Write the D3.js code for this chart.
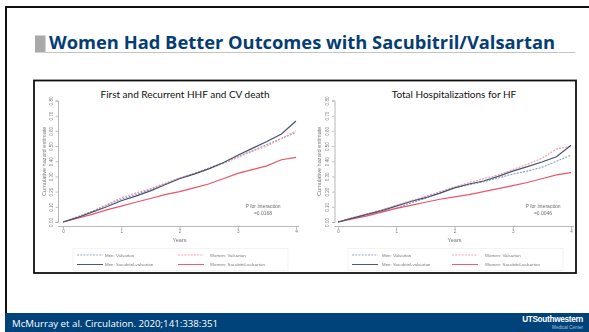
<!DOCTYPE html>
<html>
<head>
<meta charset="utf-8">
<script src="https://cdn.jsdelivr.net/npm/d3@7"></script>
<style>
  body { margin: 0; background: #fff; }
  svg { display: block; }
</style>
</head>
<body>
<svg id="slide" width="589" height="332"></svg>
<script>
// ---- slide text ----
const slideTitle = "Women Had Better Outcomes with Sacubitril/Valsartan";
const citation = "McMurray et al. Circulation. 2020;141:338:351";

// ---- shared axes ----
const years = [0, 0.25, 0.5, 0.75, 1, 1.25, 1.5, 1.75, 2, 2.25, 2.5, 2.75, 3, 3.25, 3.5, 3.75, 4];
const yearTicks = [0, 1, 2, 3, 4];
const hazardTicks = [0, 0.1, 0.2, 0.3, 0.4, 0.5, 0.6, 0.7, 0.8];
const seriesNames = ["Men: Valsartan", "Men: Sacubitril-valsartan", "Women: Valsartan", "Women: Sacubitril-valsartan"];

// ---- panel A: first and recurrent HHF and CV death (cumulative hazard) ----
const hhfCvMenVal   = [0, 0.035, 0.07, 0.11, 0.15, 0.18, 0.215, 0.25, 0.29, 0.32, 0.355, 0.39, 0.43, 0.47, 0.51, 0.55, 0.59];
const hhfCvMenSac   = [0, 0.03, 0.065, 0.10, 0.14, 0.17, 0.205, 0.245, 0.285, 0.315, 0.35, 0.39, 0.44, 0.485, 0.53, 0.58, 0.665];
const hhfCvWomenVal = [0, 0.03, 0.07, 0.115, 0.16, 0.19, 0.22, 0.255, 0.29, 0.32, 0.35, 0.385, 0.425, 0.465, 0.50, 0.55, 0.60];
const hhfCvWomenSac = [0, 0.025, 0.05, 0.08, 0.105, 0.13, 0.155, 0.18, 0.2, 0.225, 0.25, 0.285, 0.32, 0.345, 0.37, 0.41, 0.425];

// ---- panel B: total hospitalizations for HF (cumulative hazard) ----
const hfMenVal   = [0, 0.025, 0.05, 0.07, 0.09, 0.125, 0.155, 0.19, 0.225, 0.245, 0.265, 0.29, 0.315, 0.335, 0.36, 0.40, 0.44];
const hfMenSac   = [0, 0.025, 0.05, 0.075, 0.105, 0.135, 0.16, 0.19, 0.225, 0.25, 0.27, 0.30, 0.335, 0.365, 0.395, 0.43, 0.505];
const hfWomenVal = [0, 0.03, 0.055, 0.08, 0.11, 0.14, 0.17, 0.2, 0.23, 0.26, 0.285, 0.31, 0.345, 0.38, 0.42, 0.48, 0.50];
const hfWomenSac = [0, 0.02, 0.04, 0.065, 0.09, 0.11, 0.13, 0.15, 0.165, 0.18, 0.2, 0.22, 0.24, 0.26, 0.285, 0.31, 0.325];

const panelTitles = ["First and Recurrent HHF and CV death", "Total Hospitalizations for HF"];
const pInteraction = ["=0.0168", "=0.0046"];

// ---- styling ----
const seriesStyle = [
  { color: "#8e9cc6", dash: "2,1.2", width: 1.1 },
  { color: "#46526f", dash: null,    width: 1.2 },
  { color: "#f19aa6", dash: "2,1.2", width: 1.1 },
  { color: "#e8566a", dash: null,    width: 1.2 }
];
const navy = "#053d75";

const svg = d3.select("#slide");
const defs = svg.append("defs");
defs.append("filter").attr("id", "soft")
  .attr("x", "-5%").attr("y", "-5%").attr("width", "110%").attr("height", "110%")
  .append("feGaussianBlur").attr("stdDeviation", 0.35);

// slide frame
svg.append("line").attr("x1", 5).attr("x2", 589).attr("y1", 7).attr("y2", 7)
  .attr("stroke", "#111").attr("stroke-width", 2);
svg.append("line").attr("x1", 6).attr("x2", 6).attr("y1", 6).attr("y2", 313)
  .attr("stroke", "#111").attr("stroke-width", 2);

// heading
svg.append("rect").attr("x", 35).attr("y", 35.5).attr("width", 10.5).attr("height", 17)
  .attr("fill", "#a9a9a9");
svg.append("line").attr("x1", 45).attr("x2", 575).attr("y1", 52.5).attr("y2", 52.5)
  .attr("stroke", "#c4c4c4").attr("stroke-width", 1);
svg.append("text").attr("x", 49).attr("y", 49)
  .attr("font-family", "'Open Sans', 'Noto Sans', sans-serif").attr("font-weight", 700)
  .attr("font-size", 18).attr("fill", navy)
  .attr("textLength", 506).attr("lengthAdjust", "spacingAndGlyphs")
  .text(slideTitle);

// chart frame
svg.append("rect").attr("x", 34).attr("y", 80.5).attr("width", 542).attr("height", 192.5)
  .attr("fill", "#fff").attr("stroke", "#111").attr("stroke-width", 1.8);

// footer
svg.append("rect").attr("x", 5).attr("y", 313).attr("width", 584).attr("height", 19).attr("fill", "#00437b");
svg.append("text").attr("x", 12).attr("y", 326.5)
  .attr("font-family", "'Open Sans', sans-serif").attr("font-size", 9.5).attr("fill", "#fff")
  .attr("textLength", 206).attr("lengthAdjust", "spacingAndGlyphs")
  .text(citation);
svg.append("text").attr("x", 583).attr("y", 322).attr("text-anchor", "end")
  .attr("font-family", "'Liberation Sans', Arial, sans-serif").attr("font-weight", 700)
  .attr("font-size", 8.2).attr("fill", "#fff").attr("letter-spacing", -0.3)
  .text("UTSouthwestern");
svg.append("text").attr("x", 583).attr("y", 329).attr("text-anchor", "end")
  .attr("font-family", "'Liberation Sans', Arial, sans-serif")
  .attr("font-size", 4.6).attr("fill", "#a9c1dc")
  .text("Medical Center");

const panels = [
  { title: panelTitles[0], series: [hhfCvMenVal, hhfCvMenSac, hhfCvWomenVal, hhfCvWomenSac], p: pInteraction[0],
    x0: 63, x1: 296, yAxisX: 58, tickLabelX: 51.5, yTitleX: 44.5, titleX: 185,
    legendLineX: [77, 178], legendTextX: [105, 210], pX: 263 },
  { title: panelTitles[1], series: [hfMenVal, hfMenSac, hfWomenVal, hfWomenSac], p: pInteraction[1],
    x0: 338, x1: 571, yAxisX: 334.5, tickLabelX: 327.5, yTitleX: 319, titleX: 454,
    legendLineX: [352, 452], legendTextX: [382, 485], pX: 543 }
];

const smallFont = "'Liberation Sans', Arial, sans-serif";

panels.forEach(pn => {
  const x = d3.scaleLinear().domain([0, 4]).range([pn.x0, pn.x1]);
  const y = d3.scaleLinear().domain([0, 0.8]).range([222, 100.5]);

  svg.append("text").attr("x", pn.titleX).attr("y", 98).attr("text-anchor", "middle")
    .attr("font-family", "Lato, 'Open Sans', sans-serif").attr("font-size", 10).attr("fill", "#111")
    .text(pn.title);

  const g = svg.append("g").attr("filter", "url(#soft)");

  // y axis
  const yAxis = g.append("g").attr("transform", `translate(${pn.yAxisX},0)`)
    .call(d3.axisLeft(y).tickValues(hazardTicks).tickSize(2.5).tickFormat(d3.format(".2f")));
  yAxis.select(".domain").attr("stroke", "#9a9a9a").attr("stroke-width", 0.7);
  yAxis.selectAll(".tick line").attr("stroke", "#9a9a9a").attr("stroke-width", 0.6);
  yAxis.selectAll(".tick text")
    .attr("font-family", smallFont).attr("font-size", 4.5).attr("fill", "#7a7a7a")
    .attr("x", 0).attr("dy", 0).attr("text-anchor", "middle")
    .attr("transform", `translate(${pn.tickLabelX - pn.yAxisX + 1.5},0) rotate(-90)`);

  g.append("text")
    .attr("transform", `translate(${pn.yTitleX},${y(0.4)}) rotate(-90)`)
    .attr("text-anchor", "middle").attr("dy", "0.35em")
    .attr("font-family", smallFont).attr("font-size", 5.6).attr("fill", "#7a7a7a")
    .text("Cumulative hazard estimate");

  // x axis
  const xAxis = g.append("g").attr("transform", "translate(0,226.5)")
    .call(d3.axisBottom(x).tickValues(yearTicks).tickSize(2.5).tickFormat(d3.format("d")));
  xAxis.select(".domain").attr("stroke", "#9a9a9a").attr("stroke-width", 0.7)
    .attr("d", `M${pn.yAxisX},0H${pn.x1 + 3}`);
  xAxis.selectAll(".tick line").attr("stroke", "#9a9a9a").attr("stroke-width", 0.6);
  xAxis.selectAll(".tick text")
    .attr("font-family", smallFont).attr("font-size", 4.6).attr("fill", "#7a7a7a").attr("y", 3.5);

  g.append("text").attr("x", (pn.x0 + pn.x1) / 2).attr("y", 242).attr("text-anchor", "middle")
    .attr("font-family", smallFont).attr("font-size", 5.6).attr("fill", "#7a7a7a")
    .text("Years");

  // curves
  const line = d3.line().x((d, i) => x(years[i])).y(d => y(d));
  [0, 2, 3, 1].forEach(k => {
    const st = seriesStyle[k];
    g.append("path").datum(pn.series[k])
      .attr("d", line).attr("fill", "none")
      .attr("stroke", st.color).attr("stroke-width", st.width)
      .attr("stroke-dasharray", st.dash);
  });

  // interaction p-value
  g.append("text").attr("x", pn.pX).attr("y", 207.5).attr("text-anchor", "middle")
    .attr("font-family", smallFont).attr("font-size", 5).attr("fill", "#6f6f6f")
    .text("P for interaction");
  g.append("text").attr("x", pn.pX).attr("y", 214.5).attr("text-anchor", "middle")
    .attr("font-family", smallFont).attr("font-size", 5).attr("fill", "#6f6f6f")
    .text(pn.p);

  // legend
  g.append("rect").attr("x", pn.legendLineX[0] - 4).attr("y", 248.5)
    .attr("width", 215).attr("height", 22)
    .attr("fill", "none").attr("stroke", "#ececec").attr("stroke-width", 0.6);
  seriesNames.forEach((name, k) => {
    const col = k < 2 ? 0 : 1, row = k % 2;
    const ly = 255 + row * 9.5;
    const st = seriesStyle[k];
    g.append("line")
      .attr("x1", pn.legendLineX[col]).attr("x2", pn.legendLineX[col] + 26)
      .attr("y1", ly).attr("y2", ly)
      .attr("stroke", st.color).attr("stroke-width", st.width * 0.8)
      .attr("stroke-dasharray", st.dash);
    g.append("text").attr("x", pn.legendTextX[col]).attr("y", ly).attr("dy", "0.35em")
      .attr("font-family", smallFont).attr("font-size", 4.4).attr("fill", "#7a7a7a")
      .text(name);
  });
});
</script>
</body>
</html>
